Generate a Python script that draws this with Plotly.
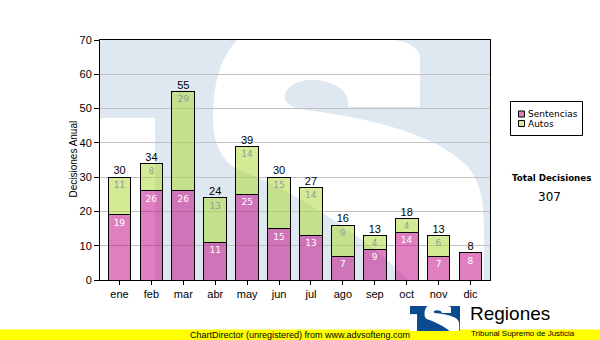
import plotly.graph_objects as go

# Monthly decisions, split by type
meses = ["ene", "feb", "mar", "abr", "may", "jun", "jul", "ago", "sep", "oct", "nov", "dic"]
sentencias = [19, 26, 26, 11, 25, 15, 13, 7, 9, 14, 7, 8]
autos = [11, 8, 29, 13, 14, 15, 14, 9, 4, 4, 6, 0]
y_ticks = [0, 10, 20, 30, 40, 50, 60, 70]

totales = [s + a for s, a in zip(sentencias, autos)]
total_decisiones = sum(totales)

# Page / plot-area geometry in pixels
W, H = 600, 340
L, T, PW, PH = 100, 40, 390, 240

PINK = "rgba(191,0,128,0.5)"
GREEN = "rgba(168,216,42,0.5)"
WM_BLUE = "rgb(223,232,241)"
LOGO_BLUE = "#0b4a8f"


def px(x):
    return (x - L) / PW


def py(y):
    return (T + PH - y) / PH


# "TS" emblem outline, in a 390 x 240 unit box (y grows downwards)
S_OUTLINE = [
    ("M", [(137, 0)]),
    ("L", [(295, 0)]),
    ("C", [(308, 2), (318, 8), (320, 16)]),
    ("L", [(320, 67)]),
    ("L", [(248, 67)]),
    ("L", [(248, 60)]),
    ("C", [(246, 48), (230, 40), (212, 40)]),
    ("C", [(194, 40), (184, 49), (185, 58)]),
    ("C", [(186, 65), (194, 68), (205, 70)]),
    ("C", [(272, 78), (336, 95), (366, 125)]),
    ("C", [(382, 142), (384, 165), (384, 190)]),
    ("L", [(384, 240)]),
    ("L", [(308, 240)]),
    ("C", [(276, 205), (198, 152), (140, 130)]),
    ("C", [(120, 122), (113, 100), (113, 78)]),
    ("C", [(113, 45), (120, 18), (137, 0)]),
]
CUT_RECT = (0, 78, 55, 240)


def emblem(x0, y0, sx, sy, blue, layer):
    def pt(u, v):
        return px(x0 + u * sx), py(y0 + v * sy)

    parts = []
    for cmd, pts in S_OUTLINE:
        coords = " ".join("%.5f,%.5f" % pt(u, v) for u, v in pts)
        parts.append(cmd + coords)
    path = " ".join(parts) + " Z"
    bx0, by0 = pt(0, 0)
    bx1, by1 = pt(390, 240)
    cx0, cy0 = pt(CUT_RECT[0], CUT_RECT[1])
    cx1, cy1 = pt(CUT_RECT[2], CUT_RECT[3])
    common = dict(xref="paper", yref="paper", layer=layer, line=dict(width=0))
    return [
        dict(type="rect", x0=bx0, x1=bx1, y0=by0, y1=by1, fillcolor=blue, **common),
        dict(type="rect", x0=cx0, x1=cx1, y0=cy0, y1=cy1, fillcolor="white", **common),
        dict(type="path", path=path, fillcolor="white", **common),
    ]


fig = go.Figure()

bar_text = dict(texttemplate="%{text}", textposition="inside", insidetextanchor="end",
                constraintext="none", textangle=0, hoverinfo="skip", showlegend=False)

fig.add_trace(go.Bar(
    x=meses, y=sentencias, name="Sentencias",
    marker=dict(color=PINK, line=dict(color="black", width=1)),
    text=[str(v) if v else "" for v in sentencias],
    textfont=dict(family="DejaVu Sans", size=9, color="white"),
    **bar_text,
))
fig.add_trace(go.Bar(
    x=meses, y=autos, name="Autos",
    marker=dict(color=GREEN, line=dict(color="black", width=1)),
    text=[str(v) if v else "" for v in autos],
    textfont=dict(family="DejaVu Sans", size=9, color="#9a9a9a"),
    **bar_text,
))
fig.add_trace(go.Scatter(
    x=meses, y=totales, mode="text",
    text=[str(t) for t in totales], textposition="top center",
    textfont=dict(family="Liberation Sans", size=11, color="black"),
    hoverinfo="skip", showlegend=False, cliponaxis=False,
))

shapes = []
# watermark emblem behind the bars
shapes += emblem(L, T, 1.0, 1.0, WM_BLUE, "below")
# yellow banner at the foot of the page
shapes.append(dict(type="rect", xref="paper", yref="paper", layer="above",
                   x0=px(0), x1=px(W), y0=py(H + 5), y1=py(329.5),
                   fillcolor="#ffff00", line=dict(width=0)))
# small emblem next to the "Regiones" caption
shapes += emblem(410, 306, 50 / 390, 25 / 240, LOGO_BLUE, "above")
# legend box and swatches
shapes.append(dict(type="rect", xref="paper", yref="paper", layer="above",
                   x0=px(510.5), x1=px(582.5), y0=py(135.5), y1=py(101.5),
                   fillcolor="white", line=dict(color="black", width=1)))
for yc, col in ((114, PINK), (123.5, GREEN)):
    shapes.append(dict(type="rect", xref="paper", yref="paper", layer="above",
                       x0=px(518.5), x1=px(524.5), y0=py(yc + 3), y1=py(yc - 3),
                       fillcolor=col, line=dict(color="black", width=1)))

annotations = [
    dict(text="Decisiones Anual", x=px(72.5), y=py(159), textangle=-90,
         font=dict(family="Liberation Sans", size=10, color="black")),
    dict(text="Sentencias", x=px(526), y=py(114), xanchor="left",
         font=dict(family="DejaVu Sans", size=9, color="black")),
    dict(text="Autos", x=px(526), y=py(123.5), xanchor="left",
         font=dict(family="DejaVu Sans", size=9, color="black")),
    dict(text="<b>Total Decisiones</b>", x=px(551), y=py(177.5),
         font=dict(family="DejaVu Sans", size=8.7, color="black")),
    dict(text=str(total_decisiones), x=px(549), y=py(196.5),
         font=dict(family="DejaVu Sans", size=12, color="black")),
    dict(text="ChartDirector (unregistered) from www.advsofteng.com", x=px(300), y=py(334.5),
         font=dict(family="Liberation Sans", size=9, color="black")),
    dict(text="Regiones", x=px(468), y=py(313), xanchor="left",
         font=dict(family="Liberation Sans", size=19, color="black")),
    dict(text="Tribunal Supremo de Justicia", x=px(469), y=py(333.5), xanchor="left",
         font=dict(family="Liberation Sans", size=8, color="black")),
]
for a in annotations:
    a.update(xref="paper", yref="paper", showarrow=False)
    a.setdefault("xanchor", "center")
    a.setdefault("yanchor", "middle")

fig.update_layout(
    template="none",
    width=W, height=H, autosize=False,
    margin=dict(l=L, r=W - L - PW, t=T, b=H - T - PH, pad=0),
    paper_bgcolor="white", plot_bgcolor="rgba(0,0,0,0)",
    barmode="stack", bargap=0.29,
    font=dict(family="Liberation Sans", size=11, color="black"),
    showlegend=False,
    shapes=shapes, annotations=annotations,
    xaxis=dict(
        showline=True, linecolor="black", linewidth=1, mirror=True,
        ticks="outside", ticklen=4, tickcolor="black", tickwidth=1,
        showgrid=False, zeroline=False, automargin=False,
        tickfont=dict(family="Liberation Sans", size=11, color="black"),
    ),
    yaxis=dict(
        range=[0, 70], tickvals=y_ticks,
        showline=True, linecolor="black", linewidth=1, mirror=True,
        ticks="outside", ticklen=5, tickcolor="black", tickwidth=1,
        showgrid=True, gridcolor="#c0c0c0", gridwidth=1,
        zeroline=False, automargin=False,
        tickfont=dict(family="Liberation Sans", size=11, color="black"),
    ),
)

fig.write_html("out.html")
